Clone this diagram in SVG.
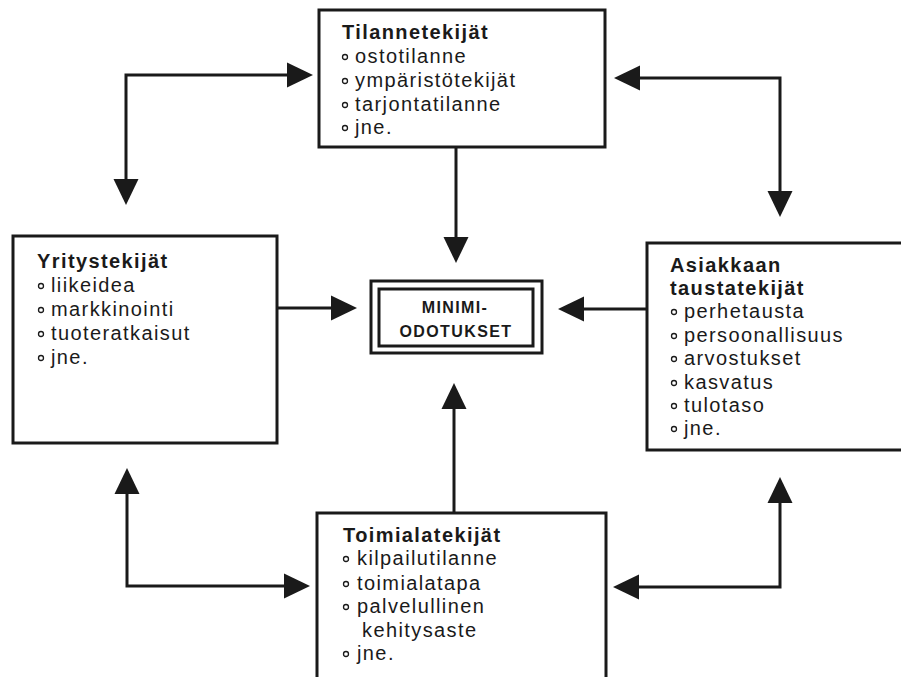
<svg xmlns="http://www.w3.org/2000/svg" width="901" height="677" viewBox="0 0 901 677">
<defs>
<style>
.box{fill:#fff;stroke:#1a1a1a;stroke-width:3}
.ln{fill:none;stroke:#1a1a1a;stroke-width:3;marker-end:url(#ah)}
.both{marker-start:url(#ah)}
.t{font-family:"Liberation Sans",Arial,sans-serif;font-size:20px;fill:#1a1a1a;letter-spacing:1.4px}
.h{font-weight:bold}
.b{fill:#fff;stroke:#1a1a1a;stroke-width:1.3}
.c{font-family:"Liberation Sans",Arial,sans-serif;font-size:16px;font-weight:bold;fill:#1a1a1a;text-anchor:middle;letter-spacing:1.4px}
</style>
<marker id="ah" markerUnits="userSpaceOnUse" markerWidth="26" markerHeight="26" viewBox="0 0 26 26" refX="18" refY="13" orient="auto-start-reverse">
<path d="M0,0.5 L26,13 L0,25.5 z" fill="#1a1a1a"/>
</marker>
</defs>
<rect width="901" height="677" fill="#fff"/>

<g id="connectors">
<path class="ln both" d="M305,75 H126 V197"/>
<path class="ln both" d="M622,78 H780 V209"/>
<path class="ln both" d="M127,476 V586 H302"/>
<path class="ln both" d="M780,485 V587 H621"/>
<path class="ln" d="M456,147 V255"/>
<path class="ln" d="M454,513 V391"/>
<path class="ln" d="M277,308 H349"/>
<path class="ln" d="M647,309 H566"/>
</g>

<g id="tilannetekijat">
<rect class="box" x="319" y="10" width="286" height="137"/>
<text class="t h" x="342" y="39">Tilannetekijät</text>
<circle class="b" cx="345" cy="57" r="2.5"/><text class="t" x="355" y="63">ostotilanne</text>
<circle class="b" cx="345" cy="81" r="2.5"/><text class="t" x="355" y="87">ympäristötekijät</text>
<circle class="b" cx="345" cy="105" r="2.5"/><text class="t" x="355" y="111">tarjontatilanne</text>
<circle class="b" cx="345" cy="128" r="2.5"/><text class="t" x="355" y="134">jne.</text>
</g>

<g id="yritystekijat">
<rect class="box" x="13" y="236" width="264" height="207"/>
<text class="t h" x="37" y="268">Yritystekijät</text>
<circle class="b" cx="41" cy="286" r="2.5"/><text class="t" x="51" y="292">liikeidea</text>
<circle class="b" cx="41" cy="310" r="2.5"/><text class="t" x="51" y="316">markkinointi</text>
<circle class="b" cx="41" cy="334" r="2.5"/><text class="t" x="51" y="340">tuoteratkaisut</text>
<circle class="b" cx="41" cy="358" r="2.5"/><text class="t" x="51" y="364">jne.</text>
</g>

<g id="asiakkaan">
<rect class="box" x="647" y="243" width="260" height="207"/>
<text class="t h" x="670" y="272">Asiakkaan</text>
<text class="t h" x="670" y="295">taustatekijät</text>
<circle class="b" cx="674" cy="312" r="2.5"/><text class="t" x="684" y="318">perhetausta</text>
<circle class="b" cx="674" cy="336" r="2.5"/><text class="t" x="684" y="342">persoonallisuus</text>
<circle class="b" cx="674" cy="359" r="2.5"/><text class="t" x="684" y="365">arvostukset</text>
<circle class="b" cx="674" cy="383" r="2.5"/><text class="t" x="684" y="389">kasvatus</text>
<circle class="b" cx="674" cy="406" r="2.5"/><text class="t" x="684" y="412">tulotaso</text>
<circle class="b" cx="674" cy="429" r="2.5"/><text class="t" x="684" y="435">jne.</text>
</g>

<g id="toimialatekijat">
<rect class="box" x="317" y="513" width="289" height="170"/>
<text class="t h" x="343" y="542">Toimialatekijät</text>
<circle class="b" cx="346" cy="559" r="2.5"/><text class="t" x="357" y="565">kilpailutilanne</text>
<circle class="b" cx="346" cy="584" r="2.5"/><text class="t" x="357" y="590">toimialatapa</text>
<circle class="b" cx="346" cy="607" r="2.5"/><text class="t" x="357" y="613">palvelullinen</text>
<text class="t" x="362" y="637">kehitysaste</text>
<circle class="b" cx="346" cy="654" r="2.5"/><text class="t" x="357" y="660">jne.</text>
</g>

<g id="minimiodotukset">
<rect class="box" x="371" y="281" width="171" height="72"/>
<rect class="box" x="379" y="289" width="154" height="57" stroke-width="2.5"/>
<text class="c" x="455" y="313">MINIMI-</text>
<text class="c" x="456" y="337" font-size="17">ODOTUKSET</text>
</g>
</svg>
